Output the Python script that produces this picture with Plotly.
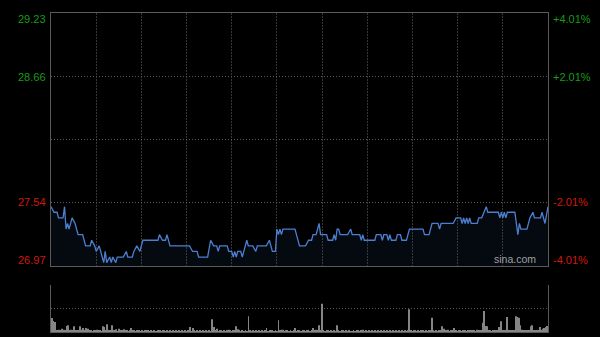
import plotly.graph_objects as go

# ---- data ----
price_minute = [0, 2, 4, 5, 8, 9, 10, 11, 12, 14, 16, 18, 21, 23, 26, 27, 29, 30, 32, 34, 35, 36, 37, 39, 40, 41, 43, 44, 48, 50,
                51, 54, 55, 57, 59, 61, 71, 72, 74, 76, 77, 79, 92, 94, 97, 98, 104, 106, 108, 110, 111, 112, 117, 118, 120, 121,
                122, 123, 124, 126, 127, 128, 130, 131, 134, 136, 137, 143, 145, 146, 147, 149, 150, 151, 152, 153, 154, 162, 165,
                169, 171, 173, 174, 176, 177, 178, 179, 183, 184, 187, 188, 189, 190, 191, 192, 197, 199, 200, 205, 206, 207, 208,
                215, 216, 219, 220, 221, 223, 224, 225, 226, 229, 230, 232, 233, 236, 238, 247, 248, 251, 253, 257, 258, 259, 267,
                269, 272, 273, 274, 275, 276, 277, 278, 279, 283, 284, 286, 289, 290, 297, 298, 299, 300, 301, 302, 303, 306, 308,
                309, 310, 311, 312, 316, 318, 320, 321, 325, 326, 328, 330]
price = [27.50, 27.45, 27.45, 27.40, 27.40, 27.50, 27.30, 27.35, 27.30, 27.40, 27.35, 27.25, 27.25, 27.15, 27.15, 27.20, 27.15,
         27.10, 27.15, 27.05, 27.00, 27.10, 27.00, 27.05, 27.00, 27.05, 27.00, 27.05, 27.05, 27.10,
         27.05, 27.05, 27.10, 27.15, 27.10, 27.20, 27.20, 27.25, 27.20, 27.20, 27.25, 27.15, 27.15, 27.10, 27.10, 27.05, 27.05,
         27.20, 27.15, 27.15, 27.10, 27.15, 27.15, 27.10, 27.10, 27.05,
         27.10, 27.05, 27.10, 27.10, 27.05, 27.10, 27.20, 27.15, 27.15, 27.10, 27.15, 27.15, 27.20, 27.15, 27.10, 27.10, 27.30,
         27.25, 27.30, 27.25, 27.30, 27.30, 27.15,
         27.15, 27.20, 27.20, 27.25, 27.25, 27.30, 27.35, 27.25, 27.25, 27.20, 27.20, 27.25, 27.20, 27.30, 27.30, 27.25, 27.25,
         27.30, 27.25, 27.25, 27.20, 27.25, 27.20,
         27.20, 27.25, 27.25, 27.20, 27.25, 27.25, 27.20, 27.25, 27.20, 27.20, 27.25, 27.25, 27.20, 27.20, 27.30, 27.30, 27.25,
         27.25, 27.35, 27.35, 27.30, 27.35, 27.35,
         27.40, 27.40, 27.35, 27.40, 27.35, 27.40, 27.35, 27.40, 27.35, 27.35, 27.40, 27.40, 27.50, 27.45, 27.45, 27.40, 27.45,
         27.40, 27.45, 27.40, 27.45, 27.45, 27.45,
         27.35, 27.25, 27.35, 27.30, 27.30, 27.40, 27.45, 27.40, 27.40, 27.45, 27.35, 27.50]

volume = [140, 110, 100, 20, 15, 23, 12, 33, 23, 10,
          60, 67, 12, 23, 10, 57, 15, 12, 10, 57,
          23, 40, 12, 40, 33, 10, 17, 8, 12, 17,
          23, 10, 12, 8, 57, 50, 10, 77, 12, 10,
          67, 17, 10, 27, 8, 33, 12, 10, 27, 10,
          17, 8, 10, 40, 12, 17, 8, 10, 12, 8,
          17, 8, 10, 12, 10, 8, 10, 8, 12, 8,
          8, 10, 17, 8, 10, 17, 8, 10, 8, 17,
          8, 10, 8, 12, 8, 10, 8, 10, 8, 12,
          8, 10, 50, 8, 40, 12, 8, 10, 8, 10,
          8, 12, 8, 10, 8, 12, 8, 127, 50, 10,
          33, 8, 17, 10, 8, 12, 8, 10, 23, 10,
          8, 12, 10, 57, 27, 10, 8, 12, 8, 10,
          8, 157, 17, 8, 10, 8, 12, 8, 10, 8,
          10, 8, 12, 40, 8, 10, 12, 17, 8, 10,
          8, 117, 10, 23, 23, 8, 10, 12, 8, 10,
          8, 12, 40, 8, 17, 10, 8, 12, 17, 8,
          10, 23, 8, 12, 40, 10, 23, 12, 67, 10,
          283, 10, 8, 17, 10, 8, 12, 8, 10, 8,
          67, 10, 8, 12, 10, 8, 12, 8, 10, 8,
          8, 10, 8, 12, 17, 8, 10, 23, 8, 10,
          8, 12, 8, 10, 8, 12, 8, 10, 8, 12,
          8, 10, 8, 12, 8, 10, 8, 12, 8, 10,
          8, 12, 8, 10, 8, 12, 8, 10, 227, 10,
          8, 12, 10, 8, 12, 8, 10, 17, 8, 12,
          8, 10, 12, 143, 10, 8, 12, 8, 10, 12,
          57, 33, 10, 12, 23, 8, 10, 12, 40, 10,
          8, 12, 10, 8, 12, 10, 8, 12, 10, 12,
          10, 12, 8, 23, 10, 12, 10, 93, 210, 60,
          57, 12, 10, 8, 12, 10, 12, 10, 50, 107,
          12, 10, 12, 150, 10, 17, 10, 17, 12, 157,
          150, 143, 67, 23, 10, 12, 10, 12, 10, 57,
          67, 12, 10, 12, 10, 50, 12, 33, 40, 50,
          60]
volume_minute = list(range(len(volume)))

prev_close = 28.10
left_labels = ["29.23", "28.66", "27.54", "26.97"]
left_values = [29.23, 28.66, 27.54, 26.97]
right_labels = ["+4.01%", "+2.01%", "-2.01%", "-4.01%"]
label_colors = ["#169c16", "#169c16", "#d0180a", "#d0180a"]
grid_minutes = [30, 60, 90, 120, 150, 180, 210, 240, 270, 300]

# ---- figure ----
fig = go.Figure()
fig.add_trace(go.Scatter(x=price_minute, y=price, mode="lines",
                         line=dict(color="#4c7fd0", width=1.3),
                         fill="tozeroy", fillcolor="rgba(60,100,180,0.09)",
                         xaxis="x", yaxis="y", hoverinfo="skip"))
fig.add_trace(go.Bar(x=volume_minute, y=volume, marker=dict(color="#858585", line=dict(width=0)),
                     xaxis="x2", yaxis="y2", hoverinfo="skip"))

fig.update_layout(
    width=600, height=337,
    margin=dict(l=51, r=52, t=13, b=5),
    paper_bgcolor="black", plot_bgcolor="black",
    showlegend=False, bargap=0.4,
    xaxis=dict(domain=[0, 1], range=[0, 330], anchor="y",
               tickvals=grid_minutes, showticklabels=False, ticks="",
               showgrid=True, gridcolor="#363636", griddash="2px,1px", gridwidth=1,
               zeroline=False, showline=True, mirror=True, linecolor="#5a5a5a", linewidth=1),
    yaxis=dict(domain=[0.2069, 1], range=[26.97, 29.23],
               tickvals=[27.54, prev_close, 28.66], showticklabels=False, ticks="",
               showgrid=True, gridcolor="#5a5a5a", griddash="1px,2px", gridwidth=1,
               zeroline=False, showline=True, mirror=True, linecolor="#5a5a5a", linewidth=1),
    xaxis2=dict(domain=[0, 1], range=[-0.5, 330.5], anchor="y2",
                showticklabels=False, ticks="", showgrid=False, zeroline=False,
                showline=True, linecolor="#5a5a5a", linewidth=1),
    yaxis2=dict(domain=[0, 0.1473], range=[0, 470],
                tickvals=[235, 470], showticklabels=False, ticks="",
                showgrid=True, gridcolor="#5a5a5a", griddash="1px,2px", gridwidth=1,
                zeroline=False, showline=True, mirror=True, linecolor="#5a5a5a", linewidth=1),
)

shifts = [-6, 0, 0, 6]
for lab, val, col, ys in zip(left_labels, left_values, label_colors, shifts):
    fig.add_annotation(x=0, xref="paper", y=val, yref="y", text=lab, showarrow=False,
                       xanchor="right", yanchor="middle", xshift=-3, yshift=ys,
                       font=dict(family="Arial, Liberation Sans, sans-serif", size=11, color=col))
for lab, val, col, ys in zip(right_labels, left_values, label_colors, shifts):
    fig.add_annotation(x=1, xref="paper", y=val, yref="y", text=lab, showarrow=False,
                       xanchor="left", yanchor="middle", xshift=3, yshift=ys,
                       font=dict(family="Arial, Liberation Sans, sans-serif", size=11, color=col))

fig.add_annotation(x=1, xref="paper", y=26.97, yref="y", text="sina.com", showarrow=False,
                   xanchor="right", yanchor="bottom", xshift=-10, yshift=-1,
                   font=dict(family="Arial, Liberation Sans, sans-serif", size=10.5, color="#a0a0a0"))

fig.write_html("out.html")
